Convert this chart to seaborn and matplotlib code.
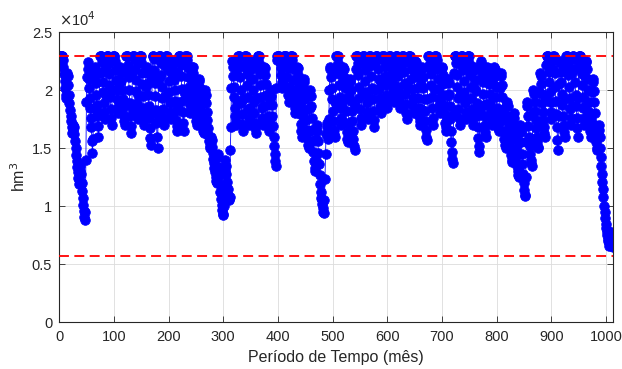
import numpy as np
import pandas as pd
import matplotlib
matplotlib.use("Agg")
import matplotlib.pyplot as plt
import seaborn as sns

# Stored volume (thousands of hm3), month by month
vol_years_00_20 = [
    22.95,22.95,22.95,22.95,22.95,22.95,22.6,22.0,21.4,20.8,20.2,19.6,
    19.3,20.4,21.5,21.2,20.4,19.6,18.9,18.3,17.8,17.3,16.8,16.3,
    16.6,17.0,16.8,16.2,15.6,15.0,14.4,13.9,13.4,12.9,12.4,11.9,
    12.3,13.0,13.5,12.8,12.0,11.3,10.7,10.1,9.6,9.1,8.8,9.5,
    14.0,19.0,21.1,22.4,21.8,21.0,20.2,19.3,18.5,17.6,16.8,15.6,
    14.6,15.8,18.5,21.0,22.0,21.5,20.6,19.6,18.7,17.8,16.9,16.0,
    18.0,21.5,22.95,22.95,22.95,22.4,21.6,20.7,19.8,18.9,18.1,17.5,
    19.5,22.0,22.95,22.95,22.95,22.3,21.4,20.4,19.4,18.4,17.6,17.0,
    20.0,22.5,22.95,22.95,22.95,22.5,21.7,20.9,20.0,19.2,18.5,18.0,
    18.8,20.5,21.8,22.0,21.5,20.8,20.0,19.2,18.5,17.8,17.3,17.0,
    19.0,21.8,22.95,22.95,22.95,22.2,21.1,20.0,18.9,17.8,16.9,16.3,
    18.5,21.5,22.95,22.95,22.95,22.6,21.8,20.9,19.9,18.9,18.1,17.5,
    19.6,22.3,22.95,22.95,22.95,22.4,21.5,20.5,19.5,18.5,17.6,17.0,
    18.2,20.3,21.7,22.0,21.5,20.6,19.6,18.6,17.6,16.7,15.9,15.3,
    18.0,21.2,22.95,22.95,22.7,21.7,20.6,19.5,18.3,17.2,16.0,15.0,
    17.8,21.0,22.95,22.95,22.95,22.3,21.3,20.3,19.3,18.4,17.6,17.0,
    19.5,22.1,22.95,22.95,22.95,22.5,21.7,20.8,19.8,18.9,18.1,17.5,
    19.0,21.4,22.5,22.3,21.7,20.9,20.0,19.1,18.2,17.4,16.9,16.5,
    18.5,21.5,22.95,22.95,22.95,22.2,21.2,20.1,19.1,18.1,17.2,16.5,
    19.8,22.4,22.95,22.95,22.95,22.6,21.9,21.1,20.3,19.5,18.7,18.0,
    19.2,21.0,22.0,22.0,21.5,20.8,20.0,19.2,18.5,17.8,17.3,17.0,
]
vol_years_21_41 = [
    18.0,19.8,21.0,20.8,20.2,19.5,18.8,18.1,17.4,16.9,16.5,16.3,
    17.2,19.0,20.0,19.6,18.9,18.1,17.4,16.7,16.1,15.6,15.2,15.0,
    15.6,16.0,15.7,15.1,14.6,14.1,13.7,13.3,12.9,12.5,12.2,12.0,
    13.0,14.5,14.2,13.4,12.6,11.9,11.2,10.6,10.1,9.7,9.3,9.2,
    10.0,11.5,13.0,14.0,13.5,12.8,12.1,11.5,11.0,10.6,10.5,10.8,
    14.8,16.8,20.2,22.5,22.0,21.2,20.3,19.4,18.5,17.8,17.3,17.0,
    19.0,21.8,22.95,22.95,22.95,22.2,21.1,20.0,18.9,17.9,17.1,16.5,
    19.2,22.0,22.95,22.95,22.95,22.3,21.4,20.4,19.4,18.4,17.6,17.0,
    18.5,21.0,22.5,22.4,21.8,21.0,20.0,19.0,18.0,17.2,16.7,16.3,
    19.3,22.0,22.95,22.95,22.95,22.3,21.4,20.4,19.4,18.5,17.6,17.0,
    18.6,20.5,22.0,21.9,21.3,20.5,19.6,18.7,17.8,17.1,16.7,16.5,
    17.5,19.2,20.0,19.5,18.7,17.8,16.9,16.0,15.2,14.5,13.9,13.5,
    20.2,22.6,22.95,22.95,22.95,22.95,22.8,22.4,21.9,21.3,20.7,20.2,
    21.0,22.7,22.95,22.95,22.95,22.95,22.5,21.9,21.1,20.3,19.6,19.0,
    20.2,22.4,22.95,22.95,22.95,22.6,21.8,20.9,20.0,19.2,18.5,18.0,
    19.0,21.0,22.0,21.9,21.3,20.5,19.6,18.7,17.9,17.1,16.5,16.0,
    17.8,20.0,21.0,20.7,20.0,19.2,18.3,17.4,16.6,15.9,15.3,15.0,
    16.5,18.5,20.0,19.5,18.6,17.6,16.6,15.6,14.7,13.9,13.3,13.0,
    14.0,15.8,17.0,16.5,15.6,14.6,13.6,12.7,11.9,11.2,10.7,10.5,
    10.2,9.8,9.5,9.4,10.5,12.3,14.5,16.2,17.2,16.8,16.2,15.8,
    17.5,20.0,22.0,21.8,21.1,20.2,19.2,18.2,17.3,16.6,16.2,16.0,
]
vol_years_42_62 = [
    19.0,21.8,22.95,22.95,22.95,22.3,21.4,20.4,19.4,18.5,17.6,17.0,
    18.6,20.6,22.0,21.8,21.1,20.2,19.2,18.2,17.2,16.4,15.8,15.5,
    17.2,19.5,21.0,20.7,20.0,19.1,18.2,17.3,16.5,15.8,15.2,14.8,
    18.6,21.8,22.95,22.95,22.95,22.3,21.3,20.3,19.3,18.4,17.6,17.0,
    19.8,22.3,22.95,22.95,22.95,22.5,21.7,20.8,19.8,18.9,18.1,17.5,
    19.4,22.1,22.95,22.95,22.95,22.2,21.2,20.2,19.2,18.2,17.4,16.8,
    20.0,22.5,22.95,22.95,22.95,22.6,21.8,21.0,20.1,19.3,18.6,18.0,
    20.6,22.7,22.95,22.95,22.95,22.7,22.0,21.2,20.4,19.6,19.0,18.5,
    21.0,22.8,22.95,22.95,22.95,22.8,22.2,21.5,20.7,20.0,19.4,19.0,
    20.4,22.6,22.95,22.95,22.95,22.7,22.0,21.2,20.3,19.5,18.9,18.5,
    19.6,22.2,22.95,22.95,22.95,22.4,21.6,20.6,19.7,18.8,18.0,17.5,
    20.2,22.5,22.95,22.95,22.95,22.6,21.8,21.0,20.1,19.3,18.6,18.0,
    19.3,21.5,22.5,22.4,21.9,21.1,20.2,19.3,18.5,17.8,17.3,17.0,
    18.4,20.5,22.0,21.8,21.1,20.2,19.2,18.2,17.3,16.6,16.0,15.7,
    19.2,22.0,22.95,22.95,22.95,22.3,21.4,20.4,19.4,18.5,17.6,17.0,
    20.1,22.5,22.95,22.95,22.95,22.6,21.8,21.0,20.1,19.3,18.6,18.0,
    19.0,21.0,22.0,21.9,21.3,20.5,19.6,18.7,17.9,17.2,16.8,16.5,
    17.5,19.5,21.0,20.6,19.7,18.6,17.5,16.5,15.5,14.7,14.1,13.7,
    18.0,21.5,22.95,22.95,22.95,22.3,21.3,20.3,19.3,18.4,17.6,17.0,
    19.6,22.2,22.95,22.95,22.95,22.5,21.7,20.8,19.8,18.9,18.1,17.5,
    19.2,22.0,22.95,22.95,22.95,22.3,21.3,20.3,19.3,18.4,17.6,17.0,
]
vol_years_63_84 = [
    18.0,20.3,22.0,21.7,20.9,19.9,18.9,17.8,16.8,15.9,15.2,14.7,
    18.2,21.0,22.5,22.3,21.6,20.7,19.7,18.7,17.8,17.0,16.4,16.0,
    18.8,20.8,22.0,21.9,21.3,20.5,19.7,18.9,18.2,17.6,17.2,17.0,
    18.4,20.6,22.0,21.8,21.2,20.3,19.4,18.5,17.7,17.1,16.7,16.5,
    18.0,20.2,21.5,21.2,20.4,19.4,18.4,17.4,16.5,15.8,15.3,15.0,
    16.0,17.8,19.0,18.6,17.8,17.0,16.2,15.5,14.9,14.4,14.0,13.8,
    14.8,16.5,18.0,17.6,16.8,15.9,15.0,14.2,13.5,13.0,12.7,12.5,
    13.5,15.5,17.0,16.4,15.5,14.5,13.6,12.8,12.0,11.4,11.0,10.9,
    12.5,15.5,19.0,18.6,17.8,16.9,16.0,15.2,14.5,14.0,13.7,13.5,
    15.5,18.0,20.0,19.7,19.0,18.2,17.4,16.7,16.0,15.5,15.1,15.0,
    17.0,19.8,21.5,21.2,20.5,19.7,18.9,18.1,17.4,16.8,16.3,16.0,
    19.5,22.2,22.95,22.95,22.95,22.4,21.6,20.7,19.8,19.0,18.1,17.5,
    19.0,21.8,22.95,22.95,22.6,21.5,20.3,19.1,17.9,16.8,15.7,14.8,
    17.8,20.5,22.5,22.3,21.6,20.7,19.7,18.7,17.8,17.0,16.4,16.0,
    19.2,22.0,22.95,22.95,22.95,22.3,21.3,20.3,19.3,18.4,17.6,17.0,
    18.6,21.5,22.95,22.95,22.7,21.8,20.7,19.6,18.6,17.6,16.7,16.0,
    19.3,22.1,22.95,22.95,22.95,22.3,21.4,20.4,19.4,18.5,17.6,17.0,
    18.6,21.2,22.5,22.4,21.8,21.0,20.0,19.0,18.1,17.2,16.5,16.0,
    17.5,19.8,21.0,20.7,19.9,19.0,18.0,17.0,16.2,15.5,15.0,14.8,
    16.5,17.0,16.6,16.0,15.0,14.2,13.5,12.8,12.1,11.5,10.8,10.0,
    9.5,9.0,8.5,8.1,7.8,7.5,7.2,7.0,6.8,6.6,7.2,7.8,
    7.5,7.0,6.7,6.5,
]
vol_max_hm3 = 22950
vol_min_hm3 = 5733
x_ticks = [0, 100, 200, 300, 400, 500, 600, 700, 800, 900, 1000]
y_ticks = [0, 5000, 10000, 15000, 20000, 25000]
y_tick_labels = ["0", "0.5", "1", "1.5", "2", "2.5"]

vol_k = vol_years_00_20 + vol_years_21_41 + vol_years_42_62 + vol_years_63_84
df = pd.DataFrame({"mes": np.arange(1, len(vol_k) + 1),
                   "volume": np.array(vol_k) * 1000.0})

plt.rcParams["font.family"] = ["Liberation Sans", "DejaVu Sans"]
dark = "#262626"

fig = plt.figure(figsize=(6.22, 3.69), dpi=100)
ax = fig.add_axes([0.095, 0.127, 0.891, 0.786])

ax.grid(True, color="#dcdcdc", linewidth=0.6, zorder=0)
ax.set_axisbelow(True)

sns.lineplot(data=df, x="mes", y="volume", ax=ax, color="blue",
             marker="o", markersize=6.9, markeredgecolor="blue",
             markerfacecolor="blue", markeredgewidth=0.6,
             linewidth=0.6, zorder=2, legend=False)

ax.axhline(vol_max_hm3, color="red", linestyle=(0, (5.5, 3)), linewidth=1.3, zorder=3)
ax.axhline(vol_min_hm3, color="red", linestyle=(0, (5.5, 3)), linewidth=1.3, zorder=3)

ax.set_xlim(0, len(vol_k) + 1)
ax.set_ylim(0, 25000)
ax.set_xticks(x_ticks)
ax.set_yticks(y_ticks)
ax.set_yticklabels(y_tick_labels)

ax.tick_params(direction="in", top=True, right=True, length=4, width=0.6,
               colors=dark, labelsize=10.5, labelcolor=dark)
ax.tick_params(axis="x", pad=6)
ax.tick_params(axis="y", pad=5)
for s in ax.spines.values():
    s.set_color(dark)
    s.set_linewidth(0.8)

ax.set_xlabel("Período de Tempo (mês)", fontsize=11.5, color=dark, labelpad=4)
ax.set_ylabel("hm$^3$", fontsize=11.5, color=dark, labelpad=3)
ax.text(0.0, 1.012, r"$\times$10$^4$", transform=ax.transAxes, fontsize=10.5,
        color=dark, ha="left", va="bottom")

fig.savefig("out.png", dpi=100)
